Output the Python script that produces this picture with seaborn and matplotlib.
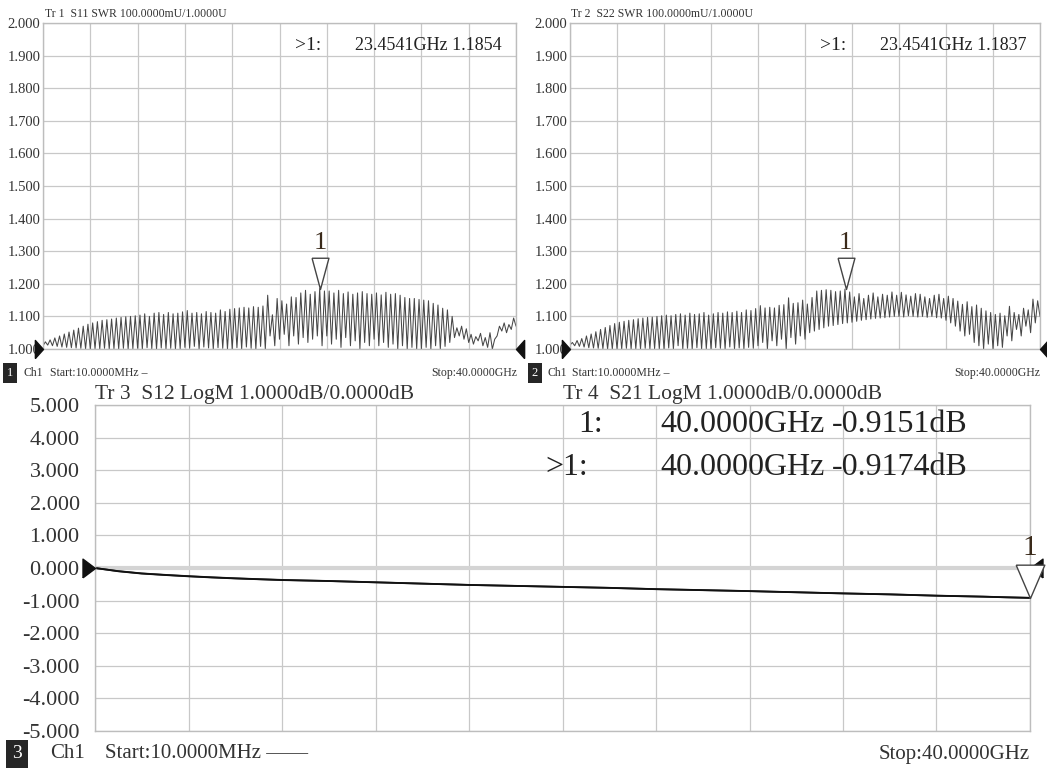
import numpy as np
import matplotlib
matplotlib.use("Agg")
import matplotlib.pyplot as plt
import seaborn as sns

# S11 / S22 SWR ripple: one peak and one valley per ripple
# (about 10 ripples per 4 GHz grid division), 10 values per row = one division
s11_peaks = [
    1.022, 1.028, 1.034, 1.040, 1.046, 1.052, 1.058, 1.064, 1.070, 1.076,
    1.080, 1.084, 1.088, 1.090, 1.092, 1.095, 1.097, 1.099, 1.100, 1.102,
    1.104, 1.108, 1.100, 1.110, 1.112, 1.106, 1.112, 1.108, 1.110, 1.114,
    1.118, 1.110, 1.112, 1.108, 1.115, 1.112, 1.110, 1.120, 1.115, 1.122,
    1.124, 1.126, 1.128, 1.126, 1.130, 1.128, 1.132, 1.165, 1.105, 1.155,
    1.148, 1.138, 1.160, 1.158, 1.172, 1.180, 1.168, 1.176, 1.1854, 1.178,
    1.178, 1.172, 1.180, 1.170, 1.175, 1.168, 1.172, 1.176, 1.170, 1.168,
    1.172, 1.166, 1.174, 1.168, 1.170, 1.165, 1.158, 1.155, 1.155, 1.152,
    1.150, 1.148, 1.140, 1.135, 1.125, 1.120, 1.100, 1.065, 1.070, 1.062,
    1.045, 1.038, 1.048, 1.035, 1.050, 1.030, 1.070, 1.080, 1.075, 1.095,
]
s11_valleys = [
    1.010, 1.012, 1.010, 1.008, 1.006, 1.005, 1.004, 1.003, 1.002, 1.001,
    1.000, 1.001, 1.000, 1.002, 1.000, 1.001, 1.000, 1.002, 1.000, 1.001,
    1.002, 1.000, 1.004, 1.001, 1.000, 1.003, 1.000, 1.002, 1.000, 1.001,
    1.005, 1.002, 1.008, 1.000, 1.006, 1.003, 1.000, 1.004, 1.002, 1.000,
    1.000, 1.004, 1.000, 1.006, 1.002, 1.000, 1.008, 1.000, 1.040, 1.010,
    1.030, 1.045, 1.010, 1.040, 1.015, 1.035, 1.020, 1.030, 1.040, 1.010,
    1.040, 1.015, 1.030, 1.005, 1.035, 1.010, 1.025, 1.000, 1.020, 1.010,
    1.030, 1.010, 1.020, 1.005, 1.015, 1.000, 1.010, 1.000, 1.005, 1.000,
    1.000, 1.005, 1.000, 1.010, 1.000, 1.008, 1.020, 1.035, 1.040, 1.030,
    1.020, 1.015, 1.025, 1.010, 1.005, 1.000, 1.040, 1.055, 1.050, 1.060,
]
s11_end = 1.070

s22_peaks = [
    1.020, 1.026, 1.032, 1.040, 1.046, 1.053, 1.060, 1.066, 1.072, 1.078,
    1.082, 1.085, 1.088, 1.090, 1.093, 1.095, 1.097, 1.098, 1.100, 1.102,
    1.104, 1.102, 1.106, 1.108, 1.104, 1.110, 1.106, 1.108, 1.112, 1.104,
    1.108, 1.112, 1.110, 1.114, 1.112, 1.116, 1.112, 1.120, 1.118, 1.124,
    1.133, 1.126, 1.128, 1.126, 1.134, 1.136, 1.157, 1.140, 1.142, 1.150,
    1.138, 1.158, 1.178, 1.180, 1.182, 1.180, 1.176, 1.178, 1.1837, 1.175,
    1.160, 1.170, 1.155, 1.165, 1.172, 1.160, 1.168, 1.165, 1.175, 1.165,
    1.174, 1.166, 1.162, 1.170, 1.168, 1.160, 1.155, 1.165, 1.168, 1.155,
    1.162, 1.155, 1.147, 1.137, 1.145, 1.130, 1.135, 1.125, 1.117, 1.112,
    1.106, 1.110, 1.102, 1.131, 1.112, 1.106, 1.125, 1.120, 1.153, 1.148,
]
s22_valleys = [
    1.012, 1.010, 1.008, 1.006, 1.004, 1.003, 1.002, 1.001, 1.000, 1.000,
    1.001, 1.000, 1.002, 1.000, 1.001, 1.000, 1.002, 1.000, 1.001, 1.000,
    1.000, 1.003, 1.000, 1.010, 1.000, 1.002, 1.000, 1.004, 1.000, 1.001,
    1.000, 1.004, 1.002, 1.000, 1.006, 1.000, 1.003, 1.000, 1.005, 1.002,
    1.010, 1.020, 1.000, 1.025, 1.010, 1.030, 1.000, 1.035, 1.015, 1.040,
    1.030, 1.050, 1.055, 1.060, 1.065, 1.070, 1.072, 1.075, 1.078, 1.080,
    1.082, 1.085, 1.088, 1.090, 1.092, 1.094, 1.095, 1.096, 1.098, 1.100,
    1.100, 1.098, 1.102, 1.100, 1.098, 1.100, 1.097, 1.100, 1.096, 1.095,
    1.088, 1.080, 1.070, 1.055, 1.040, 1.045, 1.020, 1.010, 1.000, 1.015,
    1.000, 1.010, 1.005, 1.040, 1.025, 1.060, 1.040, 1.070, 1.050, 1.080,
]
s22_end = 1.100

# insertion loss (dB), sampled every 1 GHz
loss_ghz = [0.01] + list(range(1, 41))
s21_db = [0.0, -0.10, -0.17, -0.215, -0.255, -0.29, -0.32, -0.345, -0.37, -0.385,
          -0.40, -0.42, -0.44, -0.46, -0.48, -0.50, -0.52, -0.535, -0.55, -0.565,
          -0.58, -0.595, -0.61, -0.63, -0.65, -0.665, -0.68, -0.695, -0.71, -0.728,
          -0.745, -0.763, -0.78, -0.795, -0.81, -0.83, -0.85, -0.865, -0.88, -0.90,
          -0.9174]
s12_db = [0.0, -0.095, -0.165, -0.21, -0.25, -0.285, -0.315, -0.342, -0.365, -0.382,
          -0.398, -0.418, -0.438, -0.458, -0.478, -0.498, -0.518, -0.533, -0.548, -0.563,
          -0.578, -0.593, -0.608, -0.628, -0.648, -0.663, -0.678, -0.693, -0.708, -0.726,
          -0.743, -0.761, -0.778, -0.793, -0.808, -0.828, -0.848, -0.863, -0.878, -0.898,
          -0.9151]

marker_ghz = 23.4541
s11_marker = 1.1854
s22_marker = 1.1837
end_ghz = 40.0
s12_marker = -0.9151
s21_marker = -0.9174

swr_ticks = [1.0, 1.1, 1.2, 1.3, 1.4, 1.5, 1.6, 1.7, 1.8, 1.9, 2.0]
db_ticks = [-5, -4, -3, -2, -1, 0, 1, 2, 3, 4, 5]

sns.set_style("white")
plt.rcParams["font.family"] = ["Liberation Serif", "DejaVu Serif"]
plt.rcParams["axes.unicode_minus"] = False

W, H = 1047, 771
fig = plt.figure(figsize=(W / 100, H / 100), dpi=100)


def fx(x):
    return x / W


def fy(y):
    return 1 - y / H


GRID = "#c8c8c8"
TXT = "#333333"


def ripple(peaks, valleys, end):
    vals = []
    for v, p in zip(valleys, peaks):
        vals += [v, p]
    vals.append(end)
    freq = np.linspace(0.01, 40, len(vals))
    return freq, np.array(vals)


def style(ax, ticks, size, pad):
    ax.set_xlim(0.01, 40)
    ax.set_ylim(ticks[0], ticks[-1])
    ax.set_xticks(np.linspace(0.01, 40, 11))
    ax.set_xticklabels([])
    ax.set_yticks(ticks)
    ax.set_yticklabels([f"{t:.3f}" for t in ticks])
    ax.tick_params(length=0, labelsize=size, pad=pad, colors=TXT)
    ax.grid(True, color=GRID, linewidth=0.9)
    for s in ax.spines.values():
        s.set_color("#bdbdbd")
        s.set_linewidth(1.0)
    ax.set_xlabel("")
    ax.set_ylabel("")


right_tri = [(-0.9, -1), (0, 0), (-0.9, 1), (-0.9, -1)]
left_tri = [(0.9, -1), (0, 0), (0.9, 1), (0.9, -1)]


def ref_arrows(ax, level, ms, verts_r, verts_l):
    ax.plot([0.01], [level], marker=verts_r, ms=ms, color="#111111",
            clip_on=False, zorder=6)
    ax.plot([40], [level], marker=verts_l, ms=ms, color="#111111",
            clip_on=False, zorder=6)


def marker_tri(ax, x, y, ms, half_w, label_off, fs):
    verts = [(-half_w, 1), (half_w, 1), (0, 0), (-half_w, 1)]
    ax.plot([x], [y], marker=verts, ms=ms, mfc="white", mec="#444444",
            mew=1.0, clip_on=False, zorder=7)
    ax.annotate("1", xy=(x, y), xytext=(0, label_off), textcoords="offset points",
                ha="center", va="center", fontsize=fs, color="#3a2a1a",
                annotation_clip=False, zorder=8)


# ---- top-left: S11 SWR
ax1 = fig.add_axes([fx(43), fy(349), fx(473), 326 / H])
f1, v1 = ripple(s11_peaks, s11_valleys, s11_end)
sns.lineplot(x=f1, y=v1, ax=ax1, color="#474747", linewidth=0.75,
             estimator=None, sort=False)
style(ax1, swr_ticks, 10.5, 2)
ref_arrows(ax1, 1.0, 13, right_tri, left_tri)
marker_tri(ax1, marker_ghz, s11_marker, 45, 0.27, 33, 19)

# ---- top-right: S22 SWR
ax2 = fig.add_axes([fx(570), fy(349), fx(470), 326 / H])
f2, v2 = ripple(s22_peaks, s22_valleys, s22_end)
sns.lineplot(x=f2, y=v2, ax=ax2, color="#474747", linewidth=0.75,
             estimator=None, sort=False)
style(ax2, swr_ticks, 10.5, 2)
ref_arrows(ax2, 1.0, 13, right_tri, left_tri)
marker_tri(ax2, marker_ghz, s22_marker, 45, 0.27, 33, 19)

# ---- bottom: S12 / S21 LogM
ax3 = fig.add_axes([fx(95), fy(731), fx(935), 326 / H])
ax3.axhline(0, color="#d4d4d4", linewidth=3, zorder=1)
sns.lineplot(x=loss_ghz, y=s12_db, ax=ax3, color="#222222", linewidth=1.3,
             estimator=None, sort=False)
sns.lineplot(x=loss_ghz, y=s21_db, ax=ax3, color="#111111", linewidth=1.3,
             estimator=None, sort=False)
style(ax3, db_ticks, 16, 11)
ref_arrows(ax3, 0, 18, [(-1, -0.75), (0, 0), (-1, 0.75), (-1, -0.75)],
           [(1, -0.75), (0, 0), (1, 0.75), (1, -0.75)])
marker_tri(ax3, end_ghz, s21_marker, 48, 0.43, 36, 21)

# ---- annotations (VNA screen text)
fig.text(fx(45), fy(14), "Tr 1  S11 SWR 100.0000mU/1.0000U", fontsize=8.5,
         color=TXT, va="center")
fig.text(fx(571), fy(14), "Tr 2  S22 SWR 100.0000mU/1.0000U", fontsize=8.5,
         color=TXT, va="center")
for xl, xv, val in [(295, 355, s11_marker), (820, 880, s22_marker)]:
    fig.text(fx(xl), fy(45), ">1:", fontsize=14, color="#222222", va="center")
    fig.text(fx(xv), fy(45), f"{marker_ghz:.4f}GHz {val:.4f}", fontsize=13,
             color="#222222", va="center")

for bx, chx, stx, spx, num in [(10, 23, 50, 517, "1"), (535, 547, 572, 1040, "2")]:
    fig.text(fx(bx), fy(373), num, fontsize=9, color="white", ha="center",
             va="center", bbox=dict(boxstyle="square,pad=0.3", fc="#262626", ec="none"))
    fig.text(fx(chx), fy(373), "Ch1", fontsize=8.5, color=TXT, va="center")
    fig.text(fx(stx), fy(373), "Start:10.0000MHz \u2013", fontsize=8.5,
             color=TXT, va="center")
    fig.text(fx(spx), fy(373), "Stop:40.0000GHz", fontsize=8.5, color=TXT,
             va="center", ha="right")

fig.text(fx(95), fy(395), "Tr 3  S12 LogM 1.0000dB/0.0000dB", fontsize=15.5,
         color=TXT, va="center")
fig.text(fx(563), fy(395), "Tr 4  S21 LogM 1.0000dB/0.0000dB", fontsize=15.5,
         color=TXT, va="center")
rows = [("1:", 578, 424, s12_marker), (">1:", 545, 468, s21_marker)]
for lab, xl, yy, val in rows:
    fig.text(fx(xl), fy(yy), lab, fontsize=23, color="#222222", va="center")
    fig.text(fx(660), fy(yy), f"{end_ghz:.4f}GHz", fontsize=23,
             color="#222222", va="center")
    fig.text(fx(832), fy(yy), f"{val:.4f}dB", fontsize=23,
             color="#222222", va="center")

fig.text(fx(17), fy(754), "3", fontsize=14, color="white", ha="center",
         va="center", bbox=dict(boxstyle="square,pad=0.3", fc="#262626", ec="none"))
fig.text(fx(50), fy(754), "Ch1", fontsize=15, color=TXT, va="center")
fig.text(fx(105), fy(754), "Start:10.0000MHz \u2014\u2014", fontsize=15,
         color=TXT, va="center")
fig.text(fx(1030), fy(754), "Stop:40.0000GHz", fontsize=15, color=TXT,
         va="center", ha="right")

fig.savefig("out.png", dpi=100, facecolor="white")
